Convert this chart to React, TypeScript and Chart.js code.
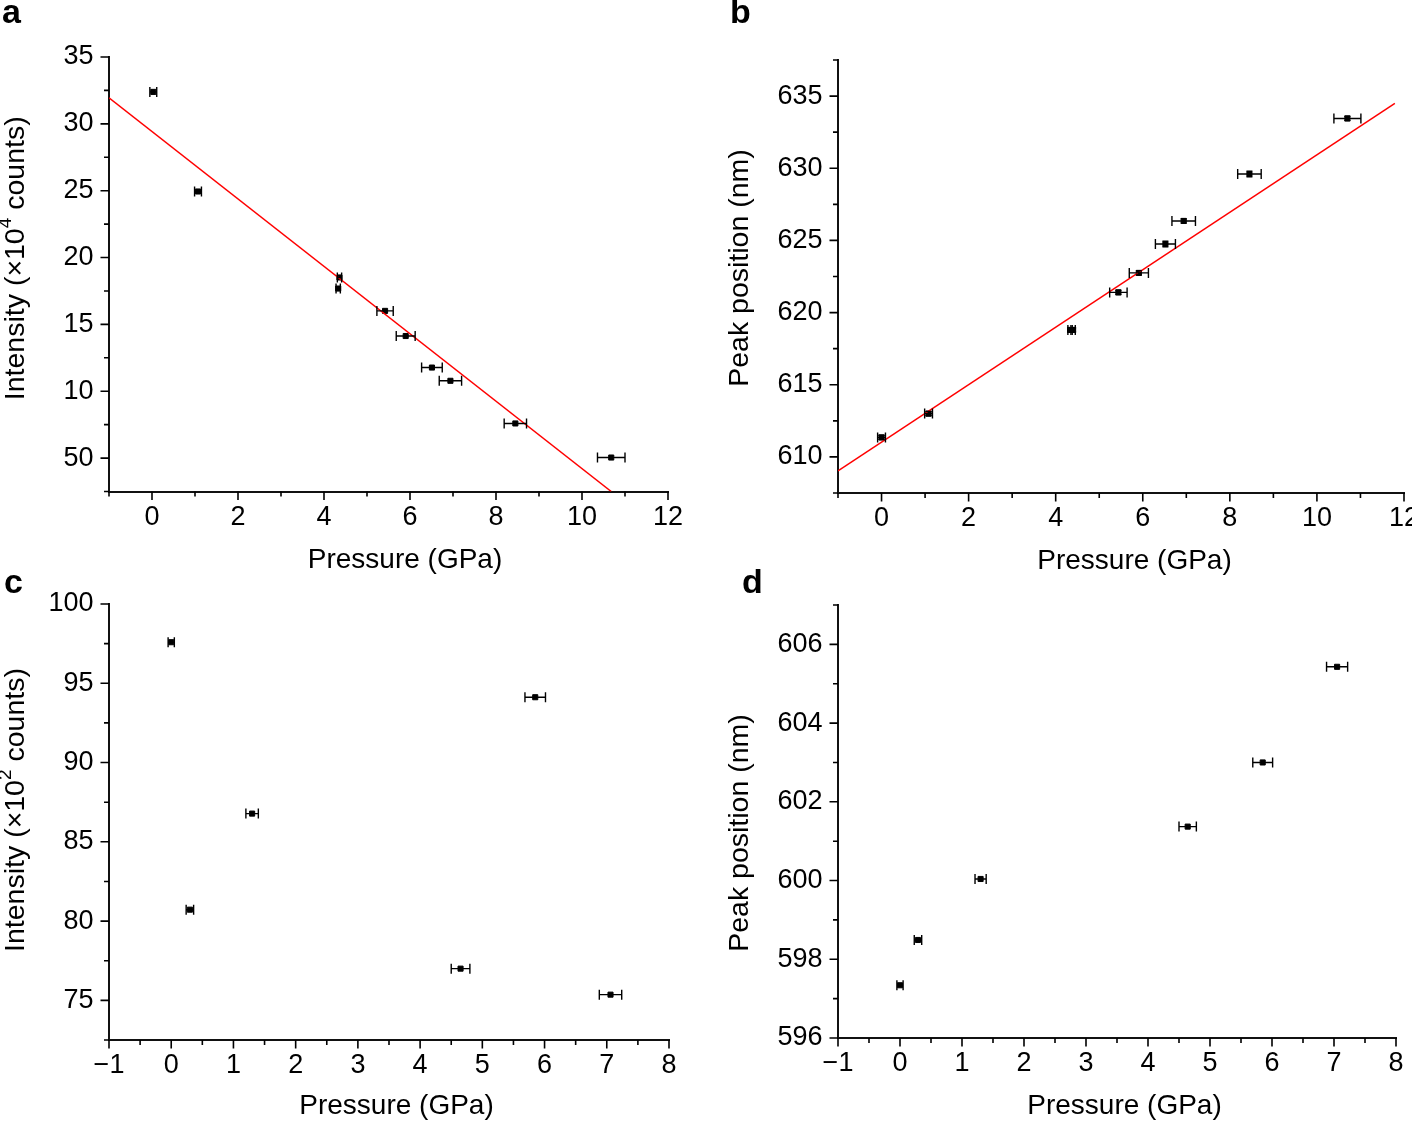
import { useEffect, useRef } from "react"
import { Chart, registerables } from "chart.js"

Chart.register(...registerables)

document.body.style.margin = "0"

const FONT = "'Liberation Sans', Arial, Helvetica, sans-serif"

// panel a: intensity vs pressure
const pressureA = [0.03, 1.07, 4.36, 4.33, 5.42, 5.9, 6.51, 6.94, 8.45, 10.68]
const pressureErrA = [0.08, 0.08, 0.05, 0.05, 0.19, 0.22, 0.24, 0.26, 0.26, 0.32]
const intensityA = [32.39, 24.94, 18.51, 17.68, 16.01, 14.13, 11.77, 10.78, 7.59, 5.04]
const fitPressureA = [-1, 10.68]
const fitIntensityA = [31.95, 2.5]

// panel b: peak position vs pressure
const pressureB = [0.0, 1.08, 4.33, 4.4, 5.44, 5.91, 6.52, 6.94, 8.45, 10.7]
const pressureErrB = [0.09, 0.09, 0.05, 0.05, 0.2, 0.22, 0.23, 0.27, 0.27, 0.31]
const peakB = [611.35, 613.0, 618.8, 618.8, 621.4, 622.75, 624.75, 626.35, 629.6, 633.45]
const peakErrB = [0.15, 0.15, 0.15, 0.15, 0.15, 0.15, 0.2, 0.15, 0.2, 0.15]
const fitPressureB = [-1, 11.79]
const fitPeakB = [609.03, 634.5]

// panel c
const pressureC = [0.0, 0.3, 1.3, 4.65, 5.85, 7.06]
const pressureErrC = [0.05, 0.06, 0.1, 0.15, 0.165, 0.18]
const intensityC = [97.59, 80.72, 86.78, 77.0, 94.12, 75.36]

// panel d
const pressureD = [0.0, 0.29, 1.3, 4.64, 5.85, 7.05]
const pressureErrD = [0.05, 0.06, 0.09, 0.14, 0.16, 0.17]
const peakD = [597.34, 598.49, 600.04, 601.37, 603.0, 605.43]

// tick values and labels
const xMajorsAB = [0, 2, 4, 6, 8, 10, 12]
const xLabelsAB = ["0", "2", "4", "6", "8", "10", "12"]
const xMajorsCD = [-1, 0, 1, 2, 3, 4, 5, 6, 7, 8]
const xLabelsCD = ["\u22121", "0", "1", "2", "3", "4", "5", "6", "7", "8"]
const yMajorsA = [5, 10, 15, 20, 25, 30, 35]
const yLabelsA = ["50", "10", "15", "20", "25", "30", "35"]
const yMajorsB = [610, 615, 620, 625, 630, 635]
const yLabelsB = ["610", "615", "620", "625", "630", "635"]
const yMajorsC = [75, 80, 85, 90, 95, 100]
const yLabelsC = ["75", "80", "85", "90", "95", "100"]
const yMajorsD = [596, 598, 600, 602, 604, 606]
const yLabelsD = ["596", "598", "600", "602", "604", "606"]

const xTitle = "Pressure (GPa)"

type Panel = {
  id: string
  area: [number, number, number, number] // left, top, right, bottom of plot area
  x: { min: number; max: number; step: number; majors: number[]; labels: string[] }
  y: { min: number; max: number; step: number; majors: number[]; labels: string[] }
  px: number[]
  py: number[]
  pxErr: number[]
  pyErr?: number[]
  fitX?: number[]
  fitY?: number[]
  yTitle: { pre: string; sup: string; post: string }
  yTitlePos: [number, number] // distance left of axis, shift from centre
  xTitlePos: [number, number] // shift from centre, distance below axis
}

const panels: Panel[] = [
  {
    id: "a",
    area: [109, 57, 668, 491.5],
    x: { min: -1, max: 12, step: 1, majors: xMajorsAB, labels: xLabelsAB },
    y: { min: 2.5, max: 35, step: 2.5, majors: yMajorsA, labels: yLabelsA },
    px: pressureA, py: intensityA, pxErr: pressureErrA,
    fitX: fitPressureA, fitY: fitIntensityA,
    yTitle: { pre: "Intensity (\u00d710", sup: "4", post: " counts)" },
    yTitlePos: [93, -16],
    xTitlePos: [16.5, 69],
  },
  {
    id: "b",
    area: [838, 60, 1404, 493],
    x: { min: -1, max: 12, step: 1, majors: xMajorsAB, labels: xLabelsAB },
    y: { min: 607.5, max: 637.5, step: 2.5, majors: yMajorsB, labels: yLabelsB },
    px: pressureB, py: peakB, pxErr: pressureErrB, pyErr: peakErrB,
    fitX: fitPressureB, fitY: fitPeakB,
    yTitle: { pre: "Peak position (nm)", sup: "", post: "" },
    yTitlePos: [98, -8.5],
    xTitlePos: [13.5, 68],
  },
  {
    id: "c",
    area: [109, 604, 669, 1040],
    x: { min: -1, max: 8, step: 0.5, majors: xMajorsCD, labels: xLabelsCD },
    y: { min: 72.5, max: 100, step: 2.5, majors: yMajorsC, labels: yLabelsC },
    px: pressureC, py: intensityC, pxErr: pressureErrC,
    yTitle: { pre: "Intensity (\u00d710", sup: "2", post: " counts)" },
    yTitlePos: [93, -12],
    xTitlePos: [7.5, 66],
  },
  {
    id: "d",
    area: [838, 605, 1396, 1038],
    x: { min: -1, max: 8, step: 0.5, majors: xMajorsCD, labels: xLabelsCD },
    y: { min: 596, max: 607, step: 1, majors: yMajorsD, labels: yLabelsD },
    px: pressureD, py: peakD, pxErr: pressureErrD,
    yTitle: { pre: "Peak position (nm)", sup: "", post: "" },
    yTitlePos: [98, 11.5],
    xTitlePos: [7.5, 68],
  },
]

const isMajor = (majors: number[], v: number) => majors.some((m) => Math.abs(m - v) < 1e-6)

// error bars, tick marks and axis titles
const decorPlugin = {
  id: "decor",
  afterDatasetsDraw(chart: any) {
    const ctx = chart.ctx
    const xs = chart.scales.x
    const ys = chart.scales.y
    ctx.save()
    ctx.strokeStyle = "#000"
    ctx.lineWidth = 1.4
    chart.data.datasets.forEach((ds: any) => {
      if (!ds.xErr) return
      ds.data.forEach((p: any, i: number) => {
        const cx = xs.getPixelForValue(p.x)
        const cy = ys.getPixelForValue(p.y)
        const x0 = xs.getPixelForValue(p.x - ds.xErr[i])
        const x1 = xs.getPixelForValue(p.x + ds.xErr[i])
        ctx.beginPath()
        ctx.moveTo(x0, cy)
        ctx.lineTo(x1, cy)
        ctx.moveTo(x0, cy - 5)
        ctx.lineTo(x0, cy + 5)
        ctx.moveTo(x1, cy - 5)
        ctx.lineTo(x1, cy + 5)
        if (ds.yErr) {
          const y0 = ys.getPixelForValue(p.y - ds.yErr[i])
          const y1 = ys.getPixelForValue(p.y + ds.yErr[i])
          ctx.moveTo(cx, y0)
          ctx.lineTo(cx, y1)
          ctx.moveTo(cx - 3, y0)
          ctx.lineTo(cx + 3, y0)
          ctx.moveTo(cx - 3, y1)
          ctx.lineTo(cx + 3, y1)
        }
        ctx.stroke()
      })
    })
    ctx.restore()
  },
  afterDraw(chart: any, _args: any, opts: any) {
    const ctx = chart.ctx
    const { left, right, top, bottom } = chart.chartArea
    const xs = chart.scales.x
    const ys = chart.scales.y
    ctx.save()
    ctx.strokeStyle = "#000"
    ctx.lineWidth = 1.6
    ctx.beginPath()
    xs.ticks.forEach((t: any) => {
      const p = xs.getPixelForValue(t.value)
      const len = isMajor(opts.xMajors, t.value) ? 8.5 : 5
      ctx.moveTo(p, bottom)
      ctx.lineTo(p, bottom + len)
    })
    ys.ticks.forEach((t: any) => {
      const p = ys.getPixelForValue(t.value)
      const len = isMajor(opts.yMajors, t.value) ? 8.5 : 5
      ctx.moveTo(left, p)
      ctx.lineTo(left - len, p)
    })
    ctx.stroke()

    ctx.fillStyle = "#000"
    ctx.textBaseline = "middle"

    // x title
    ctx.font = `28px ${FONT}`
    ctx.textAlign = "center"
    ctx.fillText(opts.xTitle, (left + right) / 2 + opts.xTitlePos[0], bottom + opts.xTitlePos[1])

    // y title, rotated, with optional superscript
    const main = `28.5px ${FONT}`
    const small = `19px ${FONT}`
    ctx.font = main
    const w1 = ctx.measureText(opts.yPre).width
    const w3 = ctx.measureText(opts.yPost).width
    ctx.font = small
    const w2 = opts.ySup ? ctx.measureText(opts.ySup).width : 0
    const total = w1 + w2 + w3
    ctx.translate(left - opts.yTitlePos[0], (top + bottom) / 2 + opts.yTitlePos[1])
    ctx.rotate(-Math.PI / 2)
    ctx.textAlign = "left"
    let x = -total / 2
    ctx.font = main
    ctx.fillText(opts.yPre, x, 0)
    x += w1
    if (opts.ySup) {
      ctx.font = small
      ctx.fillText(opts.ySup, x, -10)
      x += w2
    }
    ctx.font = main
    ctx.fillText(opts.yPost, x, 0)
    ctx.restore()
  },
}

function makeAxis(
  ax: { min: number; max: number; step: number; majors: number[]; labels: string[] },
  position: "left" | "bottom",
) {
  return {
    type: "linear",
    position,
    min: ax.min,
    max: ax.max,
    grid: {
      display: true,
      drawOnChartArea: false,
      drawTicks: true,
      tickLength: 8.5,
      tickColor: "rgba(0,0,0,0)",
    },
    border: { display: true, color: "#111", width: 2 },
    ticks: {
      stepSize: ax.step,
      autoSkip: false,
      maxRotation: 0,
      minRotation: 0,
      padding: position === "left" ? 7 : 1,
      color: "#000",
      font: { family: FONT, size: 27 },
      callback: (v: number) => {
        const i = ax.majors.findIndex((m) => Math.abs(m - v) < 1e-6)
        return i >= 0 ? ax.labels[i] : ""
      },
    },
    afterFit: (s: any) => {
      if (position === "left") {
        s.width = 109
      } else {
        s.height = 50
        s.paddingLeft = 0
        s.paddingRight = 0
      }
    },
  }
}

function PanelChart({ spec }: { spec: Panel }) {
  const chartRef = useRef<HTMLCanvasElement>(null)
  const chartInstance = useRef<Chart | null>(null)

  useEffect(() => {
    if (!chartRef.current) return
    if (chartInstance.current) chartInstance.current.destroy()

    const [L, T, R, B] = spec.area
    const datasets: any[] = []
    if (spec.fitX && spec.fitY) {
      datasets.push({
        label: "fit",
        data: spec.fitX.map((x, i) => ({ x, y: spec.fitY![i] })),
        showLine: true,
        borderColor: "#ff0000",
        borderWidth: 1.5,
        pointRadius: 0,
        pointHoverRadius: 0,
      })
    }
    datasets.push({
      label: "data",
      data: spec.px.map((x, i) => ({ x, y: spec.py[i] })),
      xErr: spec.pxErr,
      yErr: spec.pyErr,
      pointStyle: "rect",
      pointRadius: 3.6,
      backgroundColor: "#000",
      borderColor: "#000",
      borderWidth: 1,
    })

    chartInstance.current = new Chart(chartRef.current, {
      type: "scatter",
      data: { datasets },
      options: {
        responsive: false,
        animation: false,
        events: [],
        layout: {
          padding: { left: L - 109, top: T, right: 1412 - R, bottom: 1122 - B - 50 },
        },
        plugins: {
          legend: { display: false },
          tooltip: { enabled: false },
          decor: {
            xMajors: spec.x.majors,
            yMajors: spec.y.majors,
            xTitle,
            xTitlePos: spec.xTitlePos,
            yPre: spec.yTitle.pre,
            ySup: spec.yTitle.sup,
            yPost: spec.yTitle.post,
            yTitlePos: spec.yTitlePos,
          },
        },
        scales: {
          x: makeAxis(spec.x, "bottom"),
          y: makeAxis(spec.y, "left"),
        },
      } as any,
      plugins: [decorPlugin as any],
    })

    return () => {
      if (chartInstance.current) {
        chartInstance.current.destroy()
        chartInstance.current = null
      }
    }
  }, [spec])

  return (
    <canvas
      ref={chartRef}
      width={1412}
      height={1122}
      style={{ position: "absolute", left: 0, top: 0, width: 1412, height: 1122 }}
    />
  )
}

const letters = [
  { t: "a", left: 2, top: -6 },
  { t: "b", left: 730, top: -6 },
  { t: "c", left: 4, top: 564 },
  { t: "d", left: 742, top: 564 },
]

export default function App() {
  return (
    <div style={{ position: "relative", width: 1412, height: 1122, background: "#fff", overflow: "hidden" }}>
      {panels.map((p) => (
        <PanelChart key={p.id} spec={p} />
      ))}
      {letters.map((l) => (
        <div
          key={l.t}
          style={{
            position: "absolute",
            left: l.left,
            top: l.top,
            font: `bold 34px ${FONT}`,
            lineHeight: "34px",
            color: "#000",
          }}
        >
          {l.t}
        </div>
      ))}
    </div>
  )
}
